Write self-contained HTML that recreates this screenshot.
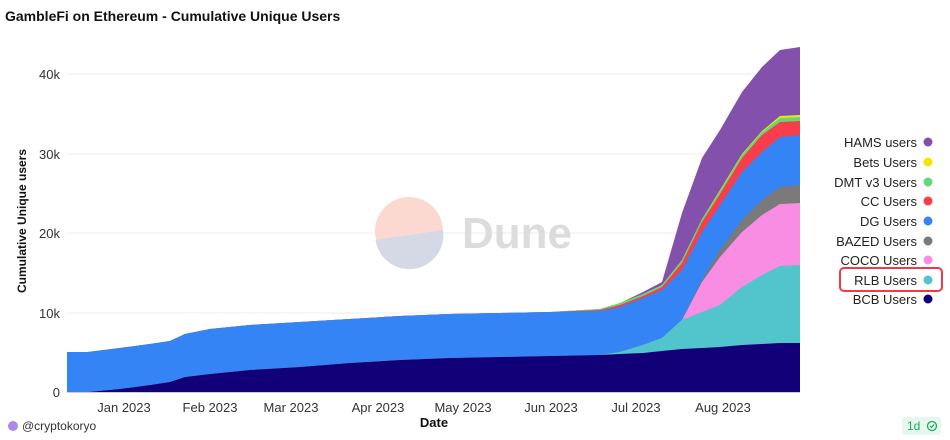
<!DOCTYPE html>
<html><head><meta charset="utf-8"><style>
body{margin:0;background:#fff;width:950px;height:440px;overflow:hidden;font-family:"Liberation Sans",sans-serif}
svg{position:absolute;left:0;top:0}
</style></head><body>
<svg width="950" height="440" viewBox="0 0 950 440" font-family="Liberation Sans, sans-serif">
<text x="5" y="21" font-size="14" font-weight="bold" fill="#111">GambleFi on Ethereum - Cumulative Unique Users</text>
<g stroke="#ececec" stroke-width="1">
<line x1="67" x2="800" y1="74" y2="74"/><line x1="67" x2="800" y1="154" y2="154"/>
<line x1="67" x2="800" y1="233" y2="233"/><line x1="67" x2="800" y1="313" y2="313"/>
</g>
<g font-size="13" fill="#333" text-anchor="end">
<text x="60" y="79">40k</text><text x="60" y="159">30k</text><text x="60" y="238">20k</text><text x="60" y="318">10k</text><text x="60" y="397">0</text>
</g>
<text transform="translate(26,221) rotate(-90)" font-size="12" font-weight="bold" text-anchor="middle" fill="#111">Cumulative Unique users</text>
<g>
<circle cx="409" cy="231" r="34" fill="#fcd9d0"/>
<path d="M375.5,240 L443,230 A34,34 0 0 1 375.5,240 Z" fill="#d5d9e6"/>
<text x="462" y="248" font-size="44" fill="#dcdcdc" font-weight="bold">Dune</text>
</g>
<g id="areas"></g>
<line x1="67" x2="800" y1="392.5" y2="392.5" stroke="#ccc"/>
<g font-size="13" fill="#333" text-anchor="middle">
<text x="124" y="412">Jan 2023</text><text x="210" y="412">Feb 2023</text><text x="291" y="412">Mar 2023</text><text x="378" y="412">Apr 2023</text><text x="463" y="412">May 2023</text><text x="551" y="412">Jun 2023</text><text x="636" y="412">Jul 2023</text><text x="723" y="412">Aug 2023</text>
</g>
<text x="434" y="427" font-size="13" font-weight="bold" text-anchor="middle" fill="#111">Date</text>
<g font-size="13" fill="#222" text-anchor="end">
<text x="917" y="147">HAMS users</text><text x="917" y="167">Bets Users</text><text x="917" y="187">DMT v3 Users</text><text x="917" y="206">CC Users</text><text x="917" y="226">DG Users</text><text x="917" y="246">BAZED Users</text><text x="917" y="265">COCO Users</text><text x="917" y="285">RLB Users</text><text x="917" y="304">BCB Users</text>
</g>
<g>
<circle cx="928" cy="142" r="4.5" fill="#8350ab"/><circle cx="928" cy="162" r="4.5" fill="#f5e600"/><circle cx="928" cy="182" r="4.5" fill="#5fd97a"/><circle cx="928" cy="201" r="4.5" fill="#f93d4a"/><circle cx="928" cy="221" r="4.5" fill="#3484f5"/><circle cx="928" cy="241" r="4.5" fill="#7a7a7a"/><circle cx="928" cy="260" r="4.5" fill="#f88de3"/><circle cx="928" cy="280" r="4.5" fill="#52c5cc"/><circle cx="928" cy="299" r="4.5" fill="#120078"/>
</g>
<rect x="840" y="268" width="102" height="23" rx="4" fill="none" stroke="#f03a44" stroke-width="2"/>
<circle cx="13" cy="426" r="5" fill="#a78be8"/>
<text x="22" y="430" font-size="12" fill="#333">@cryptokoryo</text>
<rect x="902" y="417" width="39" height="18" rx="3" fill="#e6f8ee"/>
<text x="907" y="430" font-size="12" fill="#1aa860">1d</text>
<circle cx="932" cy="426" r="4.5" fill="none" stroke="#1aa860" stroke-width="1.3"/>
<path d="M930,426 l1.5,1.5 l2.5,-3" fill="none" stroke="#1aa860" stroke-width="1.2"/>
</svg>
<script>
var X=[67,88,120,150,170,185,210,250,300,350,400,450,500,550,600,620,643,662,682,702,720,742,762,780,800];
var L=[
["#8350ab",[352,352,348,344,341,334,329,325,322,319,316,314,313,312,309,303,292,282,213,158,130,92,67,50,47]],
["#f5e600",[352,352,348,344,341,334,329,325,322,319,316,314,313,312,309,303,294,285,260,219,190,154,131,116,115]],
["#5fd97a",[352,352,348,344,341,334,329,325,322,319,316,314,313,312,309,303,294,285,260,219,191,155,132,118,117]],
["#f93d4a",[352,352,348,344,341,334,329,325,322,319,316,314,313,312,310,305,296,287,263,222,194,158,135,122,121]],
["#3484f5",[352,352,348,344,341,334,329,325,322,319,316,314,313,312,311,307,298,290,270,232,205,172,152,137,135]],
["#7a7a7a",[392,392,389,385,382,377,374,370,367,363,360,358,357,356,355,352,345,338,320,280,250,220,200,187,185]],
["#f88de3",[392,392,389,385,382,377,374,370,367,363,360,358,357,356,355,352,345,338,320,282,257,232,215,204,203]],
["#52c5cc",[392,392,389,385,382,377,374,370,367,363,360,358,357,356,355,352,345,338,320,312,305,287,275,266,265]],
["#120078",[392,392,389,385,382,377,374,370,367,363,360,358,357,356,355,354,353,351,349,348,347,345,344,343,343]]];
var g=document.getElementById('areas'),h='';
L.forEach(function(l){var d='M67,392';for(var i=0;i<X.length;i++)d+=' L'+X[i]+','+l[1][i];d+=' L800,392 Z';h+='<path d="'+d+'" fill="'+l[0]+'"/>';});
g.innerHTML=h;
</script>
</body></html>
